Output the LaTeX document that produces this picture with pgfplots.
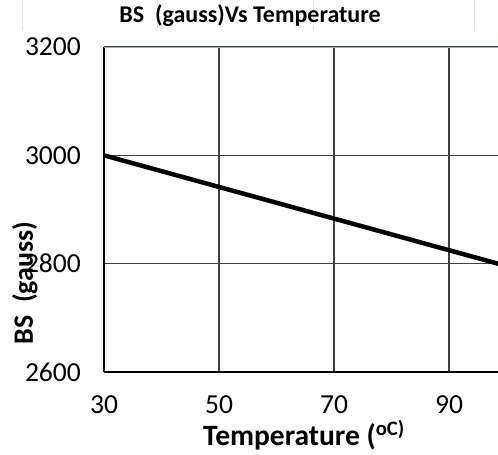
\documentclass[border=0pt]{standalone}
\usepackage{pgfplots}
\pgfplotsset{compat=1.18}
\usepackage{fontspec}
\setmainfont{Carlito}
\definecolor{gridgray}{HTML}{404040}
\definecolor{cellline}{HTML}{DCE3EE}
\definecolor{topline}{HTML}{9FB3D1}

\begin{document}
\begin{tikzpicture}
\path[use as bounding box] (0,0) rectangle (498pt,455pt);
% faint spreadsheet cell borders behind the title
\foreach \cx in {22,157,313,474}
  \draw[cellline, line width=1pt] (\cx pt,425pt) -- (\cx pt,455pt);
\begin{axis}[
    at={(104pt,83pt)}, anchor=south west,
    scale only axis,
    width=394pt, height=325pt,
    xmin=30, xmax=98.5,
    ymin=2600, ymax=3200,
    xtick={30,50,70,90},
    ytick={2600,2800,3000,3200},
    major tick length=0pt,
    axis lines*=left,
    axis line style={black, line width=1.3pt},
    grid=major,
    major grid style={gridgray, line width=1.3pt},
    clip=true,
    ticklabel style={font=\fontsize{27.5}{30}\selectfont},
    /pgf/number format/assume math mode=true,
    /pgf/number format/1000 sep={},
    yticklabel style={anchor=east, inner sep=0pt, xshift=-23pt},
    xticklabel style={anchor=north, inner sep=0pt, yshift=-23pt},
    xlabel={\textbf{Temperature (\textsuperscript{oC)}}},
    xlabel style={font=\fontsize{29.5}{32}\selectfont, at={(rel axis cs:0.5,0)},
        anchor=base, yshift=-73pt, xshift=3pt},
    ylabel={\textbf{BS\ \ (gauss)}},
    ylabel style={font=\fontsize{28}{32}\selectfont, at={(rel axis cs:0,0.274)},
        anchor=base, rotate=0, yshift=71pt},
]
\addplot[black, line width=4.5pt, line cap=round] coordinates {
  (30,3000) (50,2941.6) (70,2883.2) (90,2824.8) (98.5,2800)
};
\draw[topline, line width=1.3pt] (rel axis cs:0,1) -- (rel axis cs:1,1);
\end{axis}
\node[anchor=base, font=\fontsize{24}{28}\selectfont\bfseries] at (250pt,432pt) {BS\ \ (gauss)Vs Temperature};
\end{tikzpicture}
\end{document}
